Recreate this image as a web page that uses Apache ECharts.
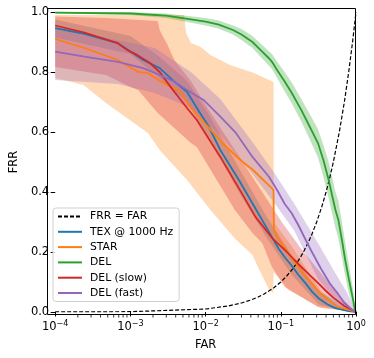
<!DOCTYPE html>
<html>
<head>
<meta charset="utf-8">
<script src="https://cdn.jsdelivr.net/npm/echarts@6/dist/echarts.min.js"></script>
<style>
  html, body { margin: 0; padding: 0; background: #fff; }
  #chart { width: 374px; height: 358px; }
</style>
</head>
<body>
<div id="chart"></div>
<script>
// x tick exponents and minor tick positions
var xExponents = ['\u22124', '\u22123', '\u22122', '\u22121', '0']
var minorTicks = [2e-4, 3e-4, 4e-4, 5e-4, 6e-4, 7e-4, 8e-4, 9e-4,
  2e-3, 3e-3, 4e-3, 5e-3, 6e-3, 7e-3, 8e-3, 9e-3,
  0.02, 0.03, 0.04, 0.05, 0.06, 0.07, 0.08, 0.09,
  0.2, 0.3, 0.4, 0.5, 0.6, 0.7, 0.8, 0.9]
var legendNames = ['FRR = FAR', 'TEX @ 1000 Hz', 'STAR', 'DEL', 'DEL (slow)', 'DEL (fast)']

// FRR = FAR diagonal
var refLine = [[1e-4, 1e-4], [1e-3, 1e-3], [0.01, 0.01], [0.02, 0.02], [0.03, 0.03], [0.04, 0.04],
  [0.05, 0.05], [0.06, 0.06], [0.08, 0.08], [0.1, 0.1], [0.12, 0.12], [0.14, 0.14], [0.16, 0.16],
  [0.18, 0.18], [0.2, 0.2], [0.23, 0.23], [0.26, 0.26], [0.3, 0.3], [0.35, 0.35], [0.4, 0.4],
  [0.45, 0.45], [0.5, 0.5], [0.6, 0.6], [0.7, 0.7], [0.8, 0.8], [0.9, 0.9], [1, 1]]

// TEX @ 1000 Hz
var texLine = [[1e-4, 0.946], [2.45e-4, 0.927], [6.8e-4, 0.896], [1.48e-3, 0.84], [2.45e-3, 0.813],
  [3.84e-3, 0.768], [5.66e-3, 0.734], [8.1e-3, 0.67], [1.09e-2, 0.62], [1.57e-2, 0.54], [2.77e-2, 0.44],
  [4.6e-2, 0.345], [6.4e-2, 0.283], [7.9e-2, 0.243], [9.4e-2, 0.21], [0.115, 0.18], [0.139, 0.155],
  [0.17, 0.125], [0.211, 0.097], [0.26, 0.068], [0.321, 0.045], [0.42, 0.025], [0.533, 0.013],
  [0.8, 0.003], [1, 0]]
var texUpper = [[1e-4, 0.975], [1e-3, 0.92], [2.45e-3, 0.85], [5.66e-3, 0.77], [1.09e-2, 0.66],
  [2.77e-2, 0.48], [6.4e-2, 0.32], [0.139, 0.19], [0.321, 0.07], [0.8, 0.01], [1, 0]]
var texLower = [[1e-4, 0.915], [1e-3, 0.86], [2.45e-3, 0.78], [5.66e-3, 0.70], [1.09e-2, 0.58],
  [2.77e-2, 0.40], [6.4e-2, 0.25], [0.139, 0.125], [0.321, 0.025], [0.8, 0], [1, 0]]

// STAR
var starLine = [[1e-4, 0.91], [2.45e-4, 0.88], [6.8e-4, 0.84], [1.27e-3, 0.80], [1.71e-3, 0.797],
  [2.6e-3, 0.767], [4.73e-3, 0.733], [5.18e-3, 0.713], [6.4e-3, 0.68], [8.6e-3, 0.645], [1.71e-2, 0.56],
  [3.12e-2, 0.50], [4.2e-2, 0.475], [0.08, 0.407], [0.081, 0.275], [0.09, 0.25], [0.139, 0.18],
  [0.211, 0.12], [0.341, 0.06], [0.566, 0.018], [1, 0]]
var starUpper = [[1e-4, 0.99], [1e-3, 0.99], [5.18e-3, 0.99], [5.5e-3, 0.93], [6.38e-3, 0.897],
  [8.6e-3, 0.883], [1.16e-2, 0.857], [2.11e-2, 0.823], [4.4e-2, 0.797], [0.08, 0.767], [0.0805, 0.30],
  [0.139, 0.22], [0.211, 0.15], [0.341, 0.07], [0.566, 0.02], [1, 0]]
var starLower = [[1e-4, 0.78], [2.38e-4, 0.757], [4.73e-4, 0.697], [6.38e-4, 0.673], [1.71e-3, 0.597],
  [2.45e-3, 0.54], [5.66e-3, 0.44], [1.16e-2, 0.34], [2.45e-2, 0.245], [4.2e-2, 0.19], [5.18e-2, 0.14],
  [7e-2, 0.075], [7.9e-2, 0.063], [0.0805, 0.133], [0.127, 0.073], [0.341, 0.013], [1, 0]]

// DEL
var delX = [1e-4, 1e-3, 3e-3, 1e-2, 0.015, 0.0231, 0.03, 0.042, 0.0566, 0.07, 0.0763, 0.09, 0.1127,
  0.14, 0.1875, 0.24, 0.312, 0.37, 0.433, 0.48, 0.533, 0.583, 0.65, 0.719, 0.8, 0.9, 0.97, 1]
var delY = [0.998, 0.995, 0.988, 0.968, 0.958, 0.94, 0.925, 0.90, 0.868, 0.845, 0.834, 0.805, 0.768,
  0.73, 0.673, 0.62, 0.563, 0.505, 0.44, 0.39, 0.34, 0.307, 0.24, 0.173, 0.112, 0.05, 0.007, 0]
var delHi = [1.0, 1.0, 0.995, 0.98, 0.972, 0.955, 0.943, 0.92, 0.89, 0.868, 0.86, 0.833, 0.80,
  0.765, 0.71, 0.662, 0.61, 0.555, 0.50, 0.45, 0.40, 0.37, 0.30, 0.23, 0.16, 0.085, 0.02, 0]
var delLo = [0.995, 0.99, 0.98, 0.955, 0.944, 0.925, 0.907, 0.88, 0.845, 0.82, 0.81, 0.778, 0.735,
  0.695, 0.635, 0.578, 0.515, 0.45, 0.38, 0.33, 0.28, 0.245, 0.18, 0.12, 0.065, 0.02, 0, 0]

// DEL (slow)
var slowLine = [[1e-4, 0.955], [2.45e-4, 0.931], [6.8e-4, 0.896], [9.1e-4, 0.873], [1.23e-3, 0.857],
  [1.82e-3, 0.83], [2.45e-3, 0.80], [3.5e-3, 0.747], [5.66e-3, 0.68], [7.64e-3, 0.64], [1.57e-2, 0.517],
  [2.85e-2, 0.407], [4.6e-2, 0.317], [7.9e-2, 0.243], [0.113, 0.207], [0.15, 0.175], [0.1875, 0.15],
  [0.245, 0.122], [0.312, 0.097], [0.4, 0.07], [0.502, 0.047], [0.7, 0.02], [0.887, 0.007], [1, 0]]
var slowUpper = [[1e-4, 0.985], [4.73e-4, 0.98], [2.31e-3, 0.97], [2.45e-3, 0.94], [3.12e-3, 0.89],
  [3.84e-3, 0.84], [6.38e-3, 0.77], [9.42e-3, 0.70], [1.71e-2, 0.60], [3.12e-2, 0.50], [5.66e-2, 0.40],
  [0.103, 0.30], [0.1875, 0.21], [0.341, 0.13], [0.566, 0.06], [1, 0]]
var slowLower = [[1e-4, 0.817], [4.73e-4, 0.79], [1e-3, 0.75], [1.27e-3, 0.74], [2.31e-3, 0.663],
  [6.38e-3, 0.563], [7.64e-3, 0.55], [2.45e-2, 0.34], [4.2e-2, 0.263], [5.66e-2, 0.23], [7.63e-2, 0.15],
  [0.113, 0.083], [0.312, 0.017], [0.8, 0.003], [1, 0]]

// DEL (fast)
var fastLine = [[1e-4, 0.868], [2.45e-4, 0.851], [6.8e-4, 0.834], [1.48e-3, 0.813], [2.45e-3, 0.79],
  [3.84e-3, 0.768], [5.66e-3, 0.74], [9.4e-3, 0.707], [1.57e-2, 0.651], [2.53e-2, 0.597], [4.2e-2, 0.517],
  [7e-2, 0.45], [0.09, 0.405], [0.113, 0.36], [0.139, 0.33], [0.171, 0.29], [0.205, 0.25], [0.253, 0.205],
  [0.341, 0.145], [0.45, 0.095], [0.566, 0.063], [0.7, 0.03], [0.887, 0.007], [1, 0]]
var fastUpper = [[1e-4, 0.95], [2.11e-3, 0.88], [6.38e-3, 0.80], [1.57e-2, 0.71], [4.2e-2, 0.567],
  [8.4e-2, 0.46], [0.152, 0.36], [0.312, 0.23], [0.502, 0.14], [0.764, 0.063], [1, 0]]
var fastLower = [[1e-4, 0.773], [6.8e-4, 0.76], [2.11e-3, 0.73], [6.38e-3, 0.68], [1.57e-2, 0.59],
  [4.2e-2, 0.46], [8.4e-2, 0.36], [0.152, 0.27], [0.312, 0.11], [0.566, 0.035], [1, 0]]

var font = 'DejaVu Sans'

function pairs(xs, ys) {
  return xs.map(function (x, i) { return [x, ys[i]] })
}

function band(upper, lower, color) {
  return {
    type: 'custom',
    name: 'band',
    z: 1,
    silent: true,
    renderItem: function (params, api) {
      var pts = []
      for (var i = 0; i < upper.length; i++) pts.push(api.coord(upper[i]))
      for (var j = lower.length - 1; j >= 0; j--) pts.push(api.coord(lower[j]))
      return { type: 'polygon', shape: { points: pts }, style: { fill: color } }
    },
    data: [upper[0]]
  }
}

function line(name, data, color, dashed) {
  return {
    type: 'line',
    name: name,
    z: 3,
    data: data,
    symbol: 'none',
    silent: true,
    lineStyle: { color: color, width: dashed ? 1.2 : 1.8, type: dashed ? [4, 2] : 'solid' },
    itemStyle: { color: color }
  }
}

var chart = echarts.init(document.getElementById('chart'), null, { renderer: 'canvas' })
chart.setOption({
  animation: false,
  textStyle: { fontFamily: font },
  grid: { left: 48, right: 18, top: 12, bottom: 46 },
  xAxis: {
    type: 'log',
    logBase: 10,
    min: 1e-4,
    max: 1,
    offset: 3,
    name: 'FAR',
    nameLocation: 'middle',
    nameGap: 24,
    nameTextStyle: { fontFamily: font, fontSize: 11.5, color: '#000' },
    axisLine: { show: false },
    axisTick: { length: 4.5, lineStyle: { color: '#000', width: 1 } },
    splitLine: { show: false },
    axisLabel: {
      margin: 5,
      showMinLabel: true,
      showMaxLabel: true,
      formatter: function (v) {
        var e = Math.round(Math.log10(v)) + 4
        return '{b|10}{s|' + xExponents[e] + '}'
      },
      rich: {
        b: { fontFamily: font, fontSize: 11.5, color: '#000' },
        s: { fontFamily: font, fontSize: 8, color: '#000', padding: [0, 0, 7, 0] }
      }
    }
  },
  yAxis: {
    type: 'value',
    min: 0,
    max: 1,
    interval: 0.2,
    name: 'FRR',
    nameLocation: 'middle',
    nameGap: 35,
    nameTextStyle: { fontFamily: font, fontSize: 11.5, color: '#000' },
    axisLine: { show: false },
    axisTick: { show: true, length: 4.5, lineStyle: { color: '#000', width: 1 } },
    splitLine: { show: false },
    axisLabel: {
      margin: 6,
      fontFamily: font,
      fontSize: 11.5,
      color: '#000',
      formatter: function (v) { return v.toFixed(1) }
    }
  },
  legend: {
    data: legendNames,
    orient: 'vertical',
    left: 53,
    top: 208,
    padding: [3, 6, 3, 4],
    itemWidth: 24,
    itemHeight: 12,
    itemGap: 4.3,
    itemStyle: { opacity: 0 },
    backgroundColor: 'rgba(255,255,255,0.8)',
    borderColor: '#d0d0d0',
    borderWidth: 1,
    borderRadius: 3,
    textStyle: { fontFamily: font, fontSize: 10.8, color: '#000', padding: [0, 0, 0, 3] }
  },
  graphic: [{
    type: 'rect',
    z: 100,
    silent: true,
    shape: { x: 47.5, y: 8.5, width: 308, height: 306 },
    style: { fill: null, stroke: '#000', lineWidth: 1 }
  }],
  series: [
    band(texUpper, texLower, 'rgba(31,119,180,0.3)'),
    band(starUpper, starLower, 'rgba(255,127,14,0.3)'),
    band(pairs(delX, delHi), pairs(delX, delLo), 'rgba(44,160,44,0.3)'),
    band(slowUpper, slowLower, 'rgba(214,39,40,0.3)'),
    band(fastUpper, fastLower, 'rgba(148,103,189,0.3)'),
    line('FRR = FAR', refLine, '#000', true),
    line('TEX @ 1000 Hz', texLine, '#1f77b4'),
    line('STAR', starLine, '#ff7f0e'),
    line('DEL', pairs(delX, delY), '#2ca02c'),
    line('DEL (slow)', slowLine, '#d62728'),
    line('DEL (fast)', fastLine, '#9467bd'),
    {
      // minor x ticks below the frame
      type: 'scatter',
      name: 'minor',
      clip: false,
      silent: true,
      symbol: 'rect',
      symbolSize: [1, 2.5],
      itemStyle: { color: '#000' },
      data: minorTicks.map(function (m) { return [m, -0.0142] })
    }
  ]
})
</script>
</body>
</html>
